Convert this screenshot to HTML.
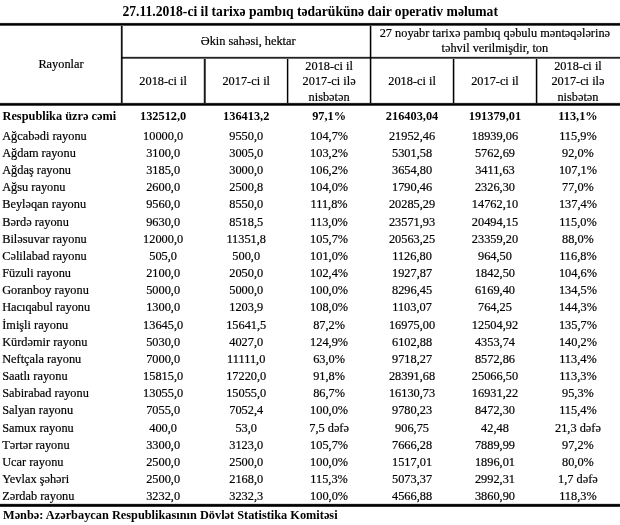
<!DOCTYPE html>
<html><head><meta charset="utf-8"><style>
html,body{margin:0;padding:0;} #w{position:absolute;left:0;top:0;width:620px;height:525px;will-change:transform;background:#fff}
body{width:620px;height:525px;position:relative;overflow:hidden;background:#fff;font-family:"Liberation Serif",serif;color:#000;}
.t{position:absolute;-webkit-text-stroke:0.2px #000;white-space:nowrap;line-height:20px;height:20px;}
.c{width:600px;text-align:center;}
.l{position:absolute;background:#000;} .g{position:absolute;mix-blend-mode:multiply;} #tx{position:absolute;left:0;top:0;width:620px;height:525px;background:#fff}
</style></head><body><div id="w">
<div id="tx"><div class="t c" style="left:10.20px;top:1.91px;font-size:13.6px;font-weight:bold;-webkit-text-stroke:0;">27.11.2018-ci il tarixə pambıq tədarükünə dair operativ məlumat</div>
<div class="t c" style="left:-239.00px;top:53.64px;font-size:12.33px;">Rayonlar</div>
<div class="t c" style="left:-51.80px;top:30.74px;font-size:12.33px;">Əkin sahəsi, hektar</div>
<div class="t c" style="left:194.85px;top:22.74px;font-size:12.33px;">27 noyabr tarixə pambıq qəbulu məntəqələrinə</div>
<div class="t c" style="left:194.85px;top:38.44px;font-size:12.33px;">təhvil verilmişdir, ton</div>
<div class="t c" style="left:-136.85px;top:71.34px;font-size:12.33px;">2018-ci il</div>
<div class="t c" style="left:-53.80px;top:71.34px;font-size:12.33px;">2017-ci il</div>
<div class="t c" style="left:29.10px;top:55.84px;font-size:12.33px;">2018-ci il</div>
<div class="t c" style="left:29.10px;top:71.44px;font-size:12.33px;">2017-ci ilə</div>
<div class="t c" style="left:29.10px;top:87.04px;font-size:12.33px;">nisbətən</div>
<div class="t c" style="left:112.05px;top:71.34px;font-size:12.33px;">2018-ci il</div>
<div class="t c" style="left:194.95px;top:71.34px;font-size:12.33px;">2017-ci il</div>
<div class="t c" style="left:277.95px;top:55.84px;font-size:12.33px;">2018-ci il</div>
<div class="t c" style="left:277.95px;top:71.44px;font-size:12.33px;">2017-ci ilə</div>
<div class="t c" style="left:277.95px;top:87.04px;font-size:12.33px;">nisbətən</div>
<div class="t" style="left:2.50px;top:105.64px;font-size:12.33px;font-weight:bold;-webkit-text-stroke:0;">Respublika üzrə cəmi</div>
<div class="t c" style="left:-136.85px;top:105.64px;font-size:12.33px;font-weight:bold;-webkit-text-stroke:0;">132512,0</div>
<div class="t c" style="left:-53.80px;top:105.64px;font-size:12.33px;font-weight:bold;-webkit-text-stroke:0;">136413,2</div>
<div class="t c" style="left:29.10px;top:105.64px;font-size:12.33px;font-weight:bold;-webkit-text-stroke:0;">97,1%</div>
<div class="t c" style="left:112.05px;top:105.64px;font-size:12.33px;font-weight:bold;-webkit-text-stroke:0;">216403,04</div>
<div class="t c" style="left:194.95px;top:105.64px;font-size:12.33px;font-weight:bold;-webkit-text-stroke:0;">191379,01</div>
<div class="t c" style="left:277.95px;top:105.64px;font-size:12.33px;font-weight:bold;-webkit-text-stroke:0;">113,1%</div>
<div class="t" style="left:2.20px;top:125.74px;font-size:12.33px;">Ağcabədi rayonu</div>
<div class="t c" style="left:-136.85px;top:125.74px;font-size:12.33px;">10000,0</div>
<div class="t c" style="left:-53.80px;top:125.74px;font-size:12.33px;">9550,0</div>
<div class="t c" style="left:29.10px;top:125.74px;font-size:12.33px;">104,7%</div>
<div class="t c" style="left:112.05px;top:125.74px;font-size:12.33px;">21952,46</div>
<div class="t c" style="left:194.95px;top:125.74px;font-size:12.33px;">18939,06</div>
<div class="t c" style="left:277.95px;top:125.74px;font-size:12.33px;">115,9%</div>
<div class="t" style="left:2.20px;top:142.91px;font-size:12.33px;">Ağdam rayonu</div>
<div class="t c" style="left:-136.85px;top:142.91px;font-size:12.33px;">3100,0</div>
<div class="t c" style="left:-53.80px;top:142.91px;font-size:12.33px;">3005,0</div>
<div class="t c" style="left:29.10px;top:142.91px;font-size:12.33px;">103,2%</div>
<div class="t c" style="left:112.05px;top:142.91px;font-size:12.33px;">5301,58</div>
<div class="t c" style="left:194.95px;top:142.91px;font-size:12.33px;">5762,69</div>
<div class="t c" style="left:277.95px;top:142.91px;font-size:12.33px;">92,0%</div>
<div class="t" style="left:2.20px;top:160.08px;font-size:12.33px;">Ağdaş rayonu</div>
<div class="t c" style="left:-136.85px;top:160.08px;font-size:12.33px;">3185,0</div>
<div class="t c" style="left:-53.80px;top:160.08px;font-size:12.33px;">3000,0</div>
<div class="t c" style="left:29.10px;top:160.08px;font-size:12.33px;">106,2%</div>
<div class="t c" style="left:112.05px;top:160.08px;font-size:12.33px;">3654,80</div>
<div class="t c" style="left:194.95px;top:160.08px;font-size:12.33px;">3411,63</div>
<div class="t c" style="left:277.95px;top:160.08px;font-size:12.33px;">107,1%</div>
<div class="t" style="left:2.20px;top:177.25px;font-size:12.33px;">Ağsu rayonu</div>
<div class="t c" style="left:-136.85px;top:177.25px;font-size:12.33px;">2600,0</div>
<div class="t c" style="left:-53.80px;top:177.25px;font-size:12.33px;">2500,8</div>
<div class="t c" style="left:29.10px;top:177.25px;font-size:12.33px;">104,0%</div>
<div class="t c" style="left:112.05px;top:177.25px;font-size:12.33px;">1790,46</div>
<div class="t c" style="left:194.95px;top:177.25px;font-size:12.33px;">2326,30</div>
<div class="t c" style="left:277.95px;top:177.25px;font-size:12.33px;">77,0%</div>
<div class="t" style="left:2.20px;top:194.42px;font-size:12.33px;">Beyləqan rayonu</div>
<div class="t c" style="left:-136.85px;top:194.42px;font-size:12.33px;">9560,0</div>
<div class="t c" style="left:-53.80px;top:194.42px;font-size:12.33px;">8550,0</div>
<div class="t c" style="left:29.10px;top:194.42px;font-size:12.33px;">111,8%</div>
<div class="t c" style="left:112.05px;top:194.42px;font-size:12.33px;">20285,29</div>
<div class="t c" style="left:194.95px;top:194.42px;font-size:12.33px;">14762,10</div>
<div class="t c" style="left:277.95px;top:194.42px;font-size:12.33px;">137,4%</div>
<div class="t" style="left:2.20px;top:211.59px;font-size:12.33px;">Bərdə rayonu</div>
<div class="t c" style="left:-136.85px;top:211.59px;font-size:12.33px;">9630,0</div>
<div class="t c" style="left:-53.80px;top:211.59px;font-size:12.33px;">8518,5</div>
<div class="t c" style="left:29.10px;top:211.59px;font-size:12.33px;">113,0%</div>
<div class="t c" style="left:112.05px;top:211.59px;font-size:12.33px;">23571,93</div>
<div class="t c" style="left:194.95px;top:211.59px;font-size:12.33px;">20494,15</div>
<div class="t c" style="left:277.95px;top:211.59px;font-size:12.33px;">115,0%</div>
<div class="t" style="left:2.20px;top:228.76px;font-size:12.33px;">Biləsuvar rayonu</div>
<div class="t c" style="left:-136.85px;top:228.76px;font-size:12.33px;">12000,0</div>
<div class="t c" style="left:-53.80px;top:228.76px;font-size:12.33px;">11351,8</div>
<div class="t c" style="left:29.10px;top:228.76px;font-size:12.33px;">105,7%</div>
<div class="t c" style="left:112.05px;top:228.76px;font-size:12.33px;">20563,25</div>
<div class="t c" style="left:194.95px;top:228.76px;font-size:12.33px;">23359,20</div>
<div class="t c" style="left:277.95px;top:228.76px;font-size:12.33px;">88,0%</div>
<div class="t" style="left:2.20px;top:245.93px;font-size:12.33px;">Cəlilabad rayonu</div>
<div class="t c" style="left:-136.85px;top:245.93px;font-size:12.33px;">505,0</div>
<div class="t c" style="left:-53.80px;top:245.93px;font-size:12.33px;">500,0</div>
<div class="t c" style="left:29.10px;top:245.93px;font-size:12.33px;">101,0%</div>
<div class="t c" style="left:112.05px;top:245.93px;font-size:12.33px;">1126,80</div>
<div class="t c" style="left:194.95px;top:245.93px;font-size:12.33px;">964,50</div>
<div class="t c" style="left:277.95px;top:245.93px;font-size:12.33px;">116,8%</div>
<div class="t" style="left:2.20px;top:263.10px;font-size:12.33px;">Füzuli rayonu</div>
<div class="t c" style="left:-136.85px;top:263.10px;font-size:12.33px;">2100,0</div>
<div class="t c" style="left:-53.80px;top:263.10px;font-size:12.33px;">2050,0</div>
<div class="t c" style="left:29.10px;top:263.10px;font-size:12.33px;">102,4%</div>
<div class="t c" style="left:112.05px;top:263.10px;font-size:12.33px;">1927,87</div>
<div class="t c" style="left:194.95px;top:263.10px;font-size:12.33px;">1842,50</div>
<div class="t c" style="left:277.95px;top:263.10px;font-size:12.33px;">104,6%</div>
<div class="t" style="left:2.20px;top:280.27px;font-size:12.33px;">Goranboy rayonu</div>
<div class="t c" style="left:-136.85px;top:280.27px;font-size:12.33px;">5000,0</div>
<div class="t c" style="left:-53.80px;top:280.27px;font-size:12.33px;">5000,0</div>
<div class="t c" style="left:29.10px;top:280.27px;font-size:12.33px;">100,0%</div>
<div class="t c" style="left:112.05px;top:280.27px;font-size:12.33px;">8296,45</div>
<div class="t c" style="left:194.95px;top:280.27px;font-size:12.33px;">6169,40</div>
<div class="t c" style="left:277.95px;top:280.27px;font-size:12.33px;">134,5%</div>
<div class="t" style="left:2.20px;top:297.44px;font-size:12.33px;">Hacıqabul rayonu</div>
<div class="t c" style="left:-136.85px;top:297.44px;font-size:12.33px;">1300,0</div>
<div class="t c" style="left:-53.80px;top:297.44px;font-size:12.33px;">1203,9</div>
<div class="t c" style="left:29.10px;top:297.44px;font-size:12.33px;">108,0%</div>
<div class="t c" style="left:112.05px;top:297.44px;font-size:12.33px;">1103,07</div>
<div class="t c" style="left:194.95px;top:297.44px;font-size:12.33px;">764,25</div>
<div class="t c" style="left:277.95px;top:297.44px;font-size:12.33px;">144,3%</div>
<div class="t" style="left:2.20px;top:314.61px;font-size:12.33px;">İmişli rayonu</div>
<div class="t c" style="left:-136.85px;top:314.61px;font-size:12.33px;">13645,0</div>
<div class="t c" style="left:-53.80px;top:314.61px;font-size:12.33px;">15641,5</div>
<div class="t c" style="left:29.10px;top:314.61px;font-size:12.33px;">87,2%</div>
<div class="t c" style="left:112.05px;top:314.61px;font-size:12.33px;">16975,00</div>
<div class="t c" style="left:194.95px;top:314.61px;font-size:12.33px;">12504,92</div>
<div class="t c" style="left:277.95px;top:314.61px;font-size:12.33px;">135,7%</div>
<div class="t" style="left:2.20px;top:331.78px;font-size:12.33px;">Kürdəmir rayonu</div>
<div class="t c" style="left:-136.85px;top:331.78px;font-size:12.33px;">5030,0</div>
<div class="t c" style="left:-53.80px;top:331.78px;font-size:12.33px;">4027,0</div>
<div class="t c" style="left:29.10px;top:331.78px;font-size:12.33px;">124,9%</div>
<div class="t c" style="left:112.05px;top:331.78px;font-size:12.33px;">6102,88</div>
<div class="t c" style="left:194.95px;top:331.78px;font-size:12.33px;">4353,74</div>
<div class="t c" style="left:277.95px;top:331.78px;font-size:12.33px;">140,2%</div>
<div class="t" style="left:2.20px;top:348.95px;font-size:12.33px;">Neftçala rayonu</div>
<div class="t c" style="left:-136.85px;top:348.95px;font-size:12.33px;">7000,0</div>
<div class="t c" style="left:-53.80px;top:348.95px;font-size:12.33px;">11111,0</div>
<div class="t c" style="left:29.10px;top:348.95px;font-size:12.33px;">63,0%</div>
<div class="t c" style="left:112.05px;top:348.95px;font-size:12.33px;">9718,27</div>
<div class="t c" style="left:194.95px;top:348.95px;font-size:12.33px;">8572,86</div>
<div class="t c" style="left:277.95px;top:348.95px;font-size:12.33px;">113,4%</div>
<div class="t" style="left:2.20px;top:366.12px;font-size:12.33px;">Saatlı rayonu</div>
<div class="t c" style="left:-136.85px;top:366.12px;font-size:12.33px;">15815,0</div>
<div class="t c" style="left:-53.80px;top:366.12px;font-size:12.33px;">17220,0</div>
<div class="t c" style="left:29.10px;top:366.12px;font-size:12.33px;">91,8%</div>
<div class="t c" style="left:112.05px;top:366.12px;font-size:12.33px;">28391,68</div>
<div class="t c" style="left:194.95px;top:366.12px;font-size:12.33px;">25066,50</div>
<div class="t c" style="left:277.95px;top:366.12px;font-size:12.33px;">113,3%</div>
<div class="t" style="left:2.20px;top:383.29px;font-size:12.33px;">Sabirabad rayonu</div>
<div class="t c" style="left:-136.85px;top:383.29px;font-size:12.33px;">13055,0</div>
<div class="t c" style="left:-53.80px;top:383.29px;font-size:12.33px;">15055,0</div>
<div class="t c" style="left:29.10px;top:383.29px;font-size:12.33px;">86,7%</div>
<div class="t c" style="left:112.05px;top:383.29px;font-size:12.33px;">16130,73</div>
<div class="t c" style="left:194.95px;top:383.29px;font-size:12.33px;">16931,22</div>
<div class="t c" style="left:277.95px;top:383.29px;font-size:12.33px;">95,3%</div>
<div class="t" style="left:2.20px;top:400.46px;font-size:12.33px;">Salyan rayonu</div>
<div class="t c" style="left:-136.85px;top:400.46px;font-size:12.33px;">7055,0</div>
<div class="t c" style="left:-53.80px;top:400.46px;font-size:12.33px;">7052,4</div>
<div class="t c" style="left:29.10px;top:400.46px;font-size:12.33px;">100,0%</div>
<div class="t c" style="left:112.05px;top:400.46px;font-size:12.33px;">9780,23</div>
<div class="t c" style="left:194.95px;top:400.46px;font-size:12.33px;">8472,30</div>
<div class="t c" style="left:277.95px;top:400.46px;font-size:12.33px;">115,4%</div>
<div class="t" style="left:2.20px;top:417.63px;font-size:12.33px;">Samux rayonu</div>
<div class="t c" style="left:-136.85px;top:417.63px;font-size:12.33px;">400,0</div>
<div class="t c" style="left:-53.80px;top:417.63px;font-size:12.33px;">53,0</div>
<div class="t c" style="left:29.10px;top:417.63px;font-size:12.33px;">7,5 dəfə</div>
<div class="t c" style="left:112.05px;top:417.63px;font-size:12.33px;">906,75</div>
<div class="t c" style="left:194.95px;top:417.63px;font-size:12.33px;">42,48</div>
<div class="t c" style="left:277.95px;top:417.63px;font-size:12.33px;">21,3 dəfə</div>
<div class="t" style="left:2.20px;top:434.80px;font-size:12.33px;">Tərtər rayonu</div>
<div class="t c" style="left:-136.85px;top:434.80px;font-size:12.33px;">3300,0</div>
<div class="t c" style="left:-53.80px;top:434.80px;font-size:12.33px;">3123,0</div>
<div class="t c" style="left:29.10px;top:434.80px;font-size:12.33px;">105,7%</div>
<div class="t c" style="left:112.05px;top:434.80px;font-size:12.33px;">7666,28</div>
<div class="t c" style="left:194.95px;top:434.80px;font-size:12.33px;">7889,99</div>
<div class="t c" style="left:277.95px;top:434.80px;font-size:12.33px;">97,2%</div>
<div class="t" style="left:2.20px;top:451.97px;font-size:12.33px;">Ucar rayonu</div>
<div class="t c" style="left:-136.85px;top:451.97px;font-size:12.33px;">2500,0</div>
<div class="t c" style="left:-53.80px;top:451.97px;font-size:12.33px;">2500,0</div>
<div class="t c" style="left:29.10px;top:451.97px;font-size:12.33px;">100,0%</div>
<div class="t c" style="left:112.05px;top:451.97px;font-size:12.33px;">1517,01</div>
<div class="t c" style="left:194.95px;top:451.97px;font-size:12.33px;">1896,01</div>
<div class="t c" style="left:277.95px;top:451.97px;font-size:12.33px;">80,0%</div>
<div class="t" style="left:2.20px;top:469.14px;font-size:12.33px;">Yevlax şəhəri</div>
<div class="t c" style="left:-136.85px;top:469.14px;font-size:12.33px;">2500,0</div>
<div class="t c" style="left:-53.80px;top:469.14px;font-size:12.33px;">2168,0</div>
<div class="t c" style="left:29.10px;top:469.14px;font-size:12.33px;">115,3%</div>
<div class="t c" style="left:112.05px;top:469.14px;font-size:12.33px;">5073,37</div>
<div class="t c" style="left:194.95px;top:469.14px;font-size:12.33px;">2992,31</div>
<div class="t c" style="left:277.95px;top:469.14px;font-size:12.33px;">1,7 dəfə</div>
<div class="t" style="left:2.20px;top:486.31px;font-size:12.33px;">Zərdab rayonu</div>
<div class="t c" style="left:-136.85px;top:486.31px;font-size:12.33px;">3232,0</div>
<div class="t c" style="left:-53.80px;top:486.31px;font-size:12.33px;">3232,3</div>
<div class="t c" style="left:29.10px;top:486.31px;font-size:12.33px;">100,0%</div>
<div class="t c" style="left:112.05px;top:486.31px;font-size:12.33px;">4566,88</div>
<div class="t c" style="left:194.95px;top:486.31px;font-size:12.33px;">3860,90</div>
<div class="t c" style="left:277.95px;top:486.31px;font-size:12.33px;">118,3%</div>
<div class="t" style="left:3.00px;top:504.84px;font-size:12.33px;font-weight:bold;-webkit-text-stroke:0;">Mənbə: Azərbaycan Respublikasının Dövlət Statistika Komitəsi</div></div>
<div class="g" style="left:120px;top:26px;width:3px;height:77px;background:linear-gradient(to right,#dddddd 0px 1px,#111111 1px 2px,#666666 2px 3px)"></div>
<div class="g" style="left:203px;top:59px;width:3px;height:44px;background:linear-gradient(to right,#cccccc 0px 1px,#1a1a1a 1px 2px,#555555 2px 3px)"></div>
<div class="g" style="left:286px;top:59px;width:3px;height:44px;background:linear-gradient(to right,#dddddd 0px 1px,#000000 1px 2px,#aaaaaa 2px 3px)"></div>
<div class="g" style="left:369px;top:26px;width:3px;height:77px;background:linear-gradient(to right,#cccccc 0px 1px,#000000 1px 2px,#aaaaaa 2px 3px)"></div>
<div class="g" style="left:452px;top:59px;width:3px;height:44px;background:linear-gradient(to right,#cccccc 0px 1px,#000000 1px 2px,#aaaaaa 2px 3px)"></div>
<div class="g" style="left:535px;top:59px;width:3px;height:44px;background:linear-gradient(to right,#cccccc 0px 1px,#000000 1px 2px,#aaaaaa 2px 3px)"></div>
<div class="g" style="left:0px;top:22px;width:620px;height:4px;background:linear-gradient(to bottom,#eeeeee 0px 1px,#222222 1px 2px,#000000 2px 3px,#555555 3px 4px)"></div>
<div class="g" style="left:121px;top:56px;width:499px;height:3px;background:linear-gradient(to bottom,#dddddd 0px 1px,#222222 1px 2px,#666666 2px 3px)"></div>
<div class="g" style="left:0px;top:102px;width:620px;height:4px;background:linear-gradient(to bottom,#e8e8e8 0px 1px,#222222 1px 2px,#000000 2px 3px,#484848 3px 4px)"></div>
<div class="g" style="left:0px;top:503px;width:620px;height:4px;background:linear-gradient(to bottom,#dddddd 0px 1px,#111111 1px 2px,#000000 2px 3px,#333333 3px 4px)"></div>
</div></body></html>
